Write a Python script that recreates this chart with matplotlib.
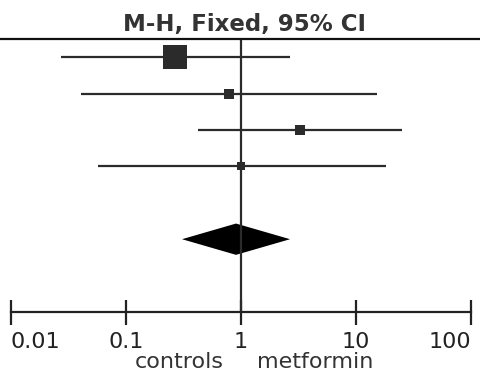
import matplotlib.pyplot as plt

# study odds ratios with 95% CI
or_vals = [0.267, 0.787, 3.26, 1.0]
ci_low = [0.027, 0.041, 0.42, 0.057]
ci_high = [2.67, 15.2, 25.1, 18.3]
box_px = [24, 10, 10, 8]

# pooled estimate
pooled = 0.905
pooled_low = 0.307
pooled_high = 2.67

tick_vals = [0.01, 0.1, 1, 10, 100]
tick_labels = ["0.01", "0.1", "1", "10", "100"]

fig = plt.figure(figsize=(4.81, 3.81), dpi=100)
W, H = 481, 381
ax = fig.add_axes([0, (H - 312) / H, 1, 273 / H])
ax.set_xscale("log")
# 115 px per decade, 0.01 sits at px 11
ax.set_xlim(10 ** (-2 - 11 / 115), 10 ** (2 + 10 / 115))
ax.set_ylim(7, -0.5)

line_col = "#2b2b2b"
for i in range(len(or_vals)):
    ax.plot([ci_low[i], ci_high[i]], [i, i], color=line_col, lw=1.6, solid_capstyle="butt")
    ax.plot(or_vals[i], i, marker="s", color="#2b2b2b", markersize=box_px[i] * 0.72, mew=0)

# diamond
dy = 0.43
ax.fill([pooled_low, pooled, pooled_high, pooled],
        [5, 5 - dy, 5, 5 + dy], color="black", lw=0)

ax.axvline(1, color=line_col, lw=1.6)

for s in ["left", "right"]:
    ax.spines[s].set_visible(False)
ax.spines["top"].set_linewidth(1.6)
ax.spines["top"].set_color("#111111")
ax.spines["bottom"].set_linewidth(1.6)
ax.spines["bottom"].set_color("#222222")
ax.spines["bottom"].set_bounds(0.01, 100)

ax.set_yticks([])
ax.set_xticks(tick_vals)
ax.set_xticklabels(tick_labels)
ax.minorticks_off()
ax.tick_params(axis="x", direction="inout", length=18, width=1.6, color="#222222",
               labelsize=16, labelcolor="#222222", pad=5.5)
labs = ax.get_xticklabels()
labs[0].set_ha("left")
labs[-1].set_ha("right")

fig.text(245 / W, 1 - 24 / H, "M-H, Fixed, 95% CI", ha="center", va="center",
         fontsize=16.5, fontweight="bold", color="#333333")
fig.text(224 / W, 1 - 362 / H, "controls", ha="right", va="center",
         fontsize=16, color="#333333")
fig.text(257 / W, 1 - 362 / H, "metformin", ha="left", va="center",
         fontsize=16, color="#333333")

fig.savefig("out.png", dpi=100)
